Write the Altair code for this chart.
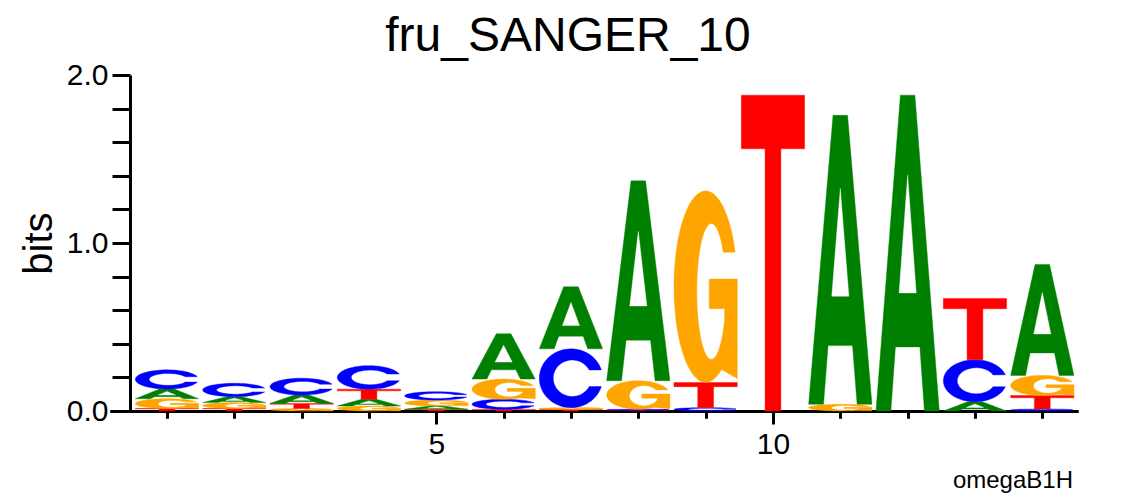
import numpy as np
import pandas as pd
import altair as alt

POSITIONS = list(range(1, 15))
# letters of each column, stacked bottom -> top
STACK_LETTERS = ["TGAC", "TGAC", "GTAC", "GATC", "TAGC", "TCGA", "TGCA",
                 "TCGA", "CTG", "T", "GA", "A", "ACT", "CTGA"]
# heights in bits, same order as STACK_LETTERS
STACK_HEIGHTS = [
    [0.015, 0.058, 0.058, 0.114],
    [0.015, 0.035, 0.035, 0.080],
    [0.015, 0.030, 0.050, 0.100],
    [0.030, 0.040, 0.060, 0.140],
    [0.010, 0.020, 0.035, 0.050],
    [0.010, 0.060, 0.120, 0.270],
    [0.010, 0.010, 0.350, 0.370],
    [0.005, 0.005, 0.170, 1.190],
    [0.020, 0.150, 1.140],
    [1.880],
    [0.040, 1.720],
    [1.880],
    [0.055, 0.250, 0.365],
    [0.012, 0.080, 0.120, 0.660],
]
LETTER_DOMAIN = ["A", "C", "G", "T"]
LETTER_COLORS = ["#008000", "#0000FF", "#FFA500", "#FF0000"]
X_TICKS = list(range(1, 15))
X_MAJOR = [5, 10]
Y_TICKS = [round(0.2 * i, 1) for i in range(11)]

# ---------------- glyph outlines in a unit box ----------------
def arc(cx, cy, rx, ry, a0, a1, n=36):
    t = np.radians(np.linspace(a0, a1, n))
    return list(zip(cx + rx * np.cos(t), cy + ry * np.sin(t)))

def glyph(letter):
    holes = []
    if letter == "A":
        outer = [(0, 0), (0.385, 1), (0.615, 1), (1, 0), (0.765, 0),
                 (0.693, 0.203), (0.307, 0.203), (0.235, 0)]
        holes = [[(0.365, 0.374), (0.5, 0.747), (0.635, 0.374)]]
    elif letter == "T":
        outer = [(0.375, 0), (0.625, 0), (0.625, 0.83), (1, 0.83), (1, 1),
                 (0, 1), (0, 0.83), (0.375, 0.83)]
    elif letter == "C":
        outer = arc(0.5, 0.5, 0.5, 0.5, 16.3, 343.7, 60) + \
                arc(0.52, 0.5, 0.30, 0.31, 333.15, 26.85, 50)
    else:  # G
        outer = arc(0.5, 0.5, 0.5, 0.5, 21.1, 300, 60) + \
                [(1.0, 0.02), (1.0, 0.54), (0.556, 0.54), (0.556, 0.385), (0.80, 0.385)] + \
                arc(0.59, 0.475, 0.23, 0.355, 335.9, 35.3, 50)
    return outer, holes

rows, hole_rows = [], []
gid = 0
half = 0.47
for pos, letters, heights in zip(POSITIONS, STACK_LETTERS, STACK_HEIGHTS):
    base = 0.0
    for let, h in zip(letters, heights):
        outer, holes = glyph(let)
        pts = outer + [outer[0]]
        for i, (u, v) in enumerate(pts):
            rows.append({"gid": gid, "idx": i, "letter": let,
                         "x": pos - half + 2 * half * u, "y": base + h * v})
        for k, hole in enumerate(holes):
            hp = hole + [hole[0]]
            for i, (u, v) in enumerate(hp):
                hole_rows.append({"gid": f"{gid}_{k}", "idx": i,
                                  "x": pos - half + 2 * half * u, "y": base + h * v})
        base += h
        gid += 1

df = pd.DataFrame(rows)
df_holes = pd.DataFrame(hole_rows)
df_major = pd.DataFrame({"x": X_MAJOR})

FONT = "Liberation Sans"
xscale = alt.Scale(domain=[0.154, 14.53], nice=False, zero=False)
yscale = alt.Scale(domain=[0, 2], nice=False, zero=True)
color_scale = alt.Scale(domain=LETTER_DOMAIN, range=LETTER_COLORS)

x_axis_minor = alt.Axis(values=X_TICKS, tickSize=7, tickWidth=3, labels=False,
                        domainWidth=3, domainColor="black", tickColor="black",
                        title=None, grid=False, orient="bottom")
x_axis_major = alt.Axis(values=X_MAJOR, tickSize=13, tickWidth=3, domain=False,
                        labelFontSize=30, labelFont=FONT, labelColor="black",
                        labelPadding=5, tickColor="black", title=None,
                        grid=False, orient="bottom", format="d")
y_axis = alt.Axis(values=Y_TICKS,
                  labelExpr="abs(datum.value - round(datum.value)) < 0.001 ? format(datum.value, '.1f') : ''",
                  tickSize=18, tickWidth=3, domainWidth=3, domainColor="black",
                  tickColor="black", offset=-20, labelFontSize=30, labelFont=FONT,
                  labelColor="black", labelPadding=4, title="bits",
                  titleFontSize=40, titleFont=FONT, titleFontWeight="normal",
                  titleColor="black", titlePadding=7, grid=False, orient="left")

letters = alt.Chart(df).mark_line(strokeWidth=0.4).encode(
    x=alt.X("x:Q", scale=xscale, axis=x_axis_minor),
    y=alt.Y("y:Q", scale=yscale, axis=y_axis),
    order="idx:Q",
    detail="gid:N",
    fill=alt.Fill("letter:N", scale=color_scale, legend=None),
    stroke=alt.Stroke("letter:N", scale=color_scale, legend=None),
)

holes = alt.Chart(df_holes).mark_line(fill="white", stroke="white", strokeWidth=0.4).encode(
    x=alt.X("x:Q", scale=xscale, axis=x_axis_minor),
    y=alt.Y("y:Q", scale=yscale, axis=y_axis),
    order="idx:Q",
    detail="gid:N",
)

major = alt.Chart(df_major).mark_point(opacity=0).encode(
    x=alt.X("x:Q", scale=xscale, axis=x_axis_major),
)

note = alt.Chart(pd.DataFrame({"t": ["omegaB1H"]})).mark_text(
    font=FONT, fontSize=24, align="right", baseline="alphabetic", color="black"
).encode(x=alt.value(963), y=alt.value(413), text="t:N")

chart = alt.layer(letters, holes, major, note).resolve_axis(x="independent").properties(
    width=968, height=336, autosize="none",
    padding={"left": 102, "top": 67, "right": 30, "bottom": 82},
    title=alt.TitleParams("fru_SANGER_10", fontSize=48, font=FONT,
                          fontWeight="normal", color="black", anchor="middle",
                          frame="group", dx=-26, offset=-1),
).configure_view(strokeWidth=0)

chart.save("out.html", embed_options={"renderer": "svg", "actions": False})
